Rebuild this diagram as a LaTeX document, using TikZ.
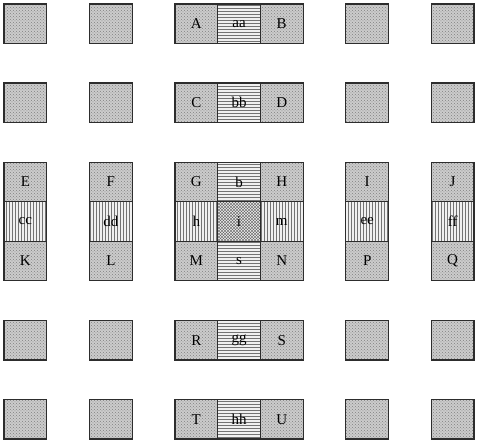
\documentclass[tikz,border=0pt]{standalone}
\usepackage{fontspec}
\setmainfont{Liberation Serif}
\usetikzlibrary{patterns}
\definecolor{edgecol}{RGB}{45,45,45}
\tikzset{every picture/.style={x=42.73pt,y=39.55pt}}
\tikzset{cell/.style={draw=edgecol,line width=1.2pt,minimum width=42.73pt,minimum height=39.55pt,inner sep=0pt,font=\fontsize{15}{18}\selectfont}}
\tikzset{dotted cell/.style={cell,preaction={fill=black!20},pattern=crosshatch dots,pattern color=black!50}}
\tikzset{hstripe/.style={cell,preaction={fill=black!6},pattern=horizontal lines,pattern color=black!55}}
\tikzset{vstripe/.style={cell,preaction={fill=black!6},pattern=vertical lines,pattern color=black!55}}
\tikzset{hatched/.style={cell,preaction={fill=black!8},pattern=crosshatch,pattern color=black!60}}

\begin{document}
\begin{tikzpicture}
\useasboundingbox (-0.594,0.601) rectangle (10.64,-10.70);
% row 0
\node [dotted cell] (r0c0) at (0,0) {};
\node [dotted cell] (r0c2) at (2,0) {};
\node [dotted cell] (A) at (4,0) {A};
\node [hstripe] (aa) at (5,0) {aa};
\node [dotted cell] (B) at (6,0) {B};
\node [dotted cell] (r0c8) at (8,0) {};
\node [dotted cell] (r0c10) at (10,0) {};
% row 2
\node [dotted cell] (r2c0) at (0,-2) {};
\node [dotted cell] (r2c2) at (2,-2) {};
\node [dotted cell] (C) at (4,-2) {C};
\node [hstripe] (bb) at (5,-2) {bb};
\node [dotted cell] (D) at (6,-2) {D};
\node [dotted cell] (r2c8) at (8,-2) {};
\node [dotted cell] (r2c10) at (10,-2) {};
% row 4
\node [dotted cell] (E) at (0,-4) {E};
\node [dotted cell] (F) at (2,-4) {F};
\node [dotted cell] (G) at (4,-4) {G};
\node [hstripe] (b) at (5,-4) {b};
\node [dotted cell] (H) at (6,-4) {H};
\node [dotted cell] (I) at (8,-4) {I};
\node [dotted cell] (J) at (10,-4) {J};
% row 5
\node [vstripe] (cc) at (0,-5) {cc};
\node [vstripe] (dd) at (2,-5) {dd};
\node [vstripe] (h) at (4,-5) {h};
\node [hatched] (i) at (5,-5) {i};
\node [vstripe] (m) at (6,-5) {m};
\node [vstripe] (ee) at (8,-5) {ee};
\node [vstripe] (ff) at (10,-5) {ff};
% row 6
\node [dotted cell] (K) at (0,-6) {K};
\node [dotted cell] (L) at (2,-6) {L};
\node [dotted cell] (M) at (4,-6) {M};
\node [hstripe] (s) at (5,-6) {s};
\node [dotted cell] (N) at (6,-6) {N};
\node [dotted cell] (P) at (8,-6) {P};
\node [dotted cell] (Q) at (10,-6) {Q};
% row 8
\node [dotted cell] (r8c0) at (0,-8) {};
\node [dotted cell] (r8c2) at (2,-8) {};
\node [dotted cell] (R) at (4,-8) {R};
\node [hstripe] (gg) at (5,-8) {gg};
\node [dotted cell] (S) at (6,-8) {S};
\node [dotted cell] (r8c8) at (8,-8) {};
\node [dotted cell] (r8c10) at (10,-8) {};
% row 10
\node [dotted cell] (r10c0) at (0,-10) {};
\node [dotted cell] (r10c2) at (2,-10) {};
\node [dotted cell] (T) at (4,-10) {T};
\node [hstripe] (hh) at (5,-10) {hh};
\node [dotted cell] (U) at (6,-10) {U};
\node [dotted cell] (r10c8) at (8,-10) {};
\node [dotted cell] (r10c10) at (10,-10) {};
\end{tikzpicture}
\end{document}
